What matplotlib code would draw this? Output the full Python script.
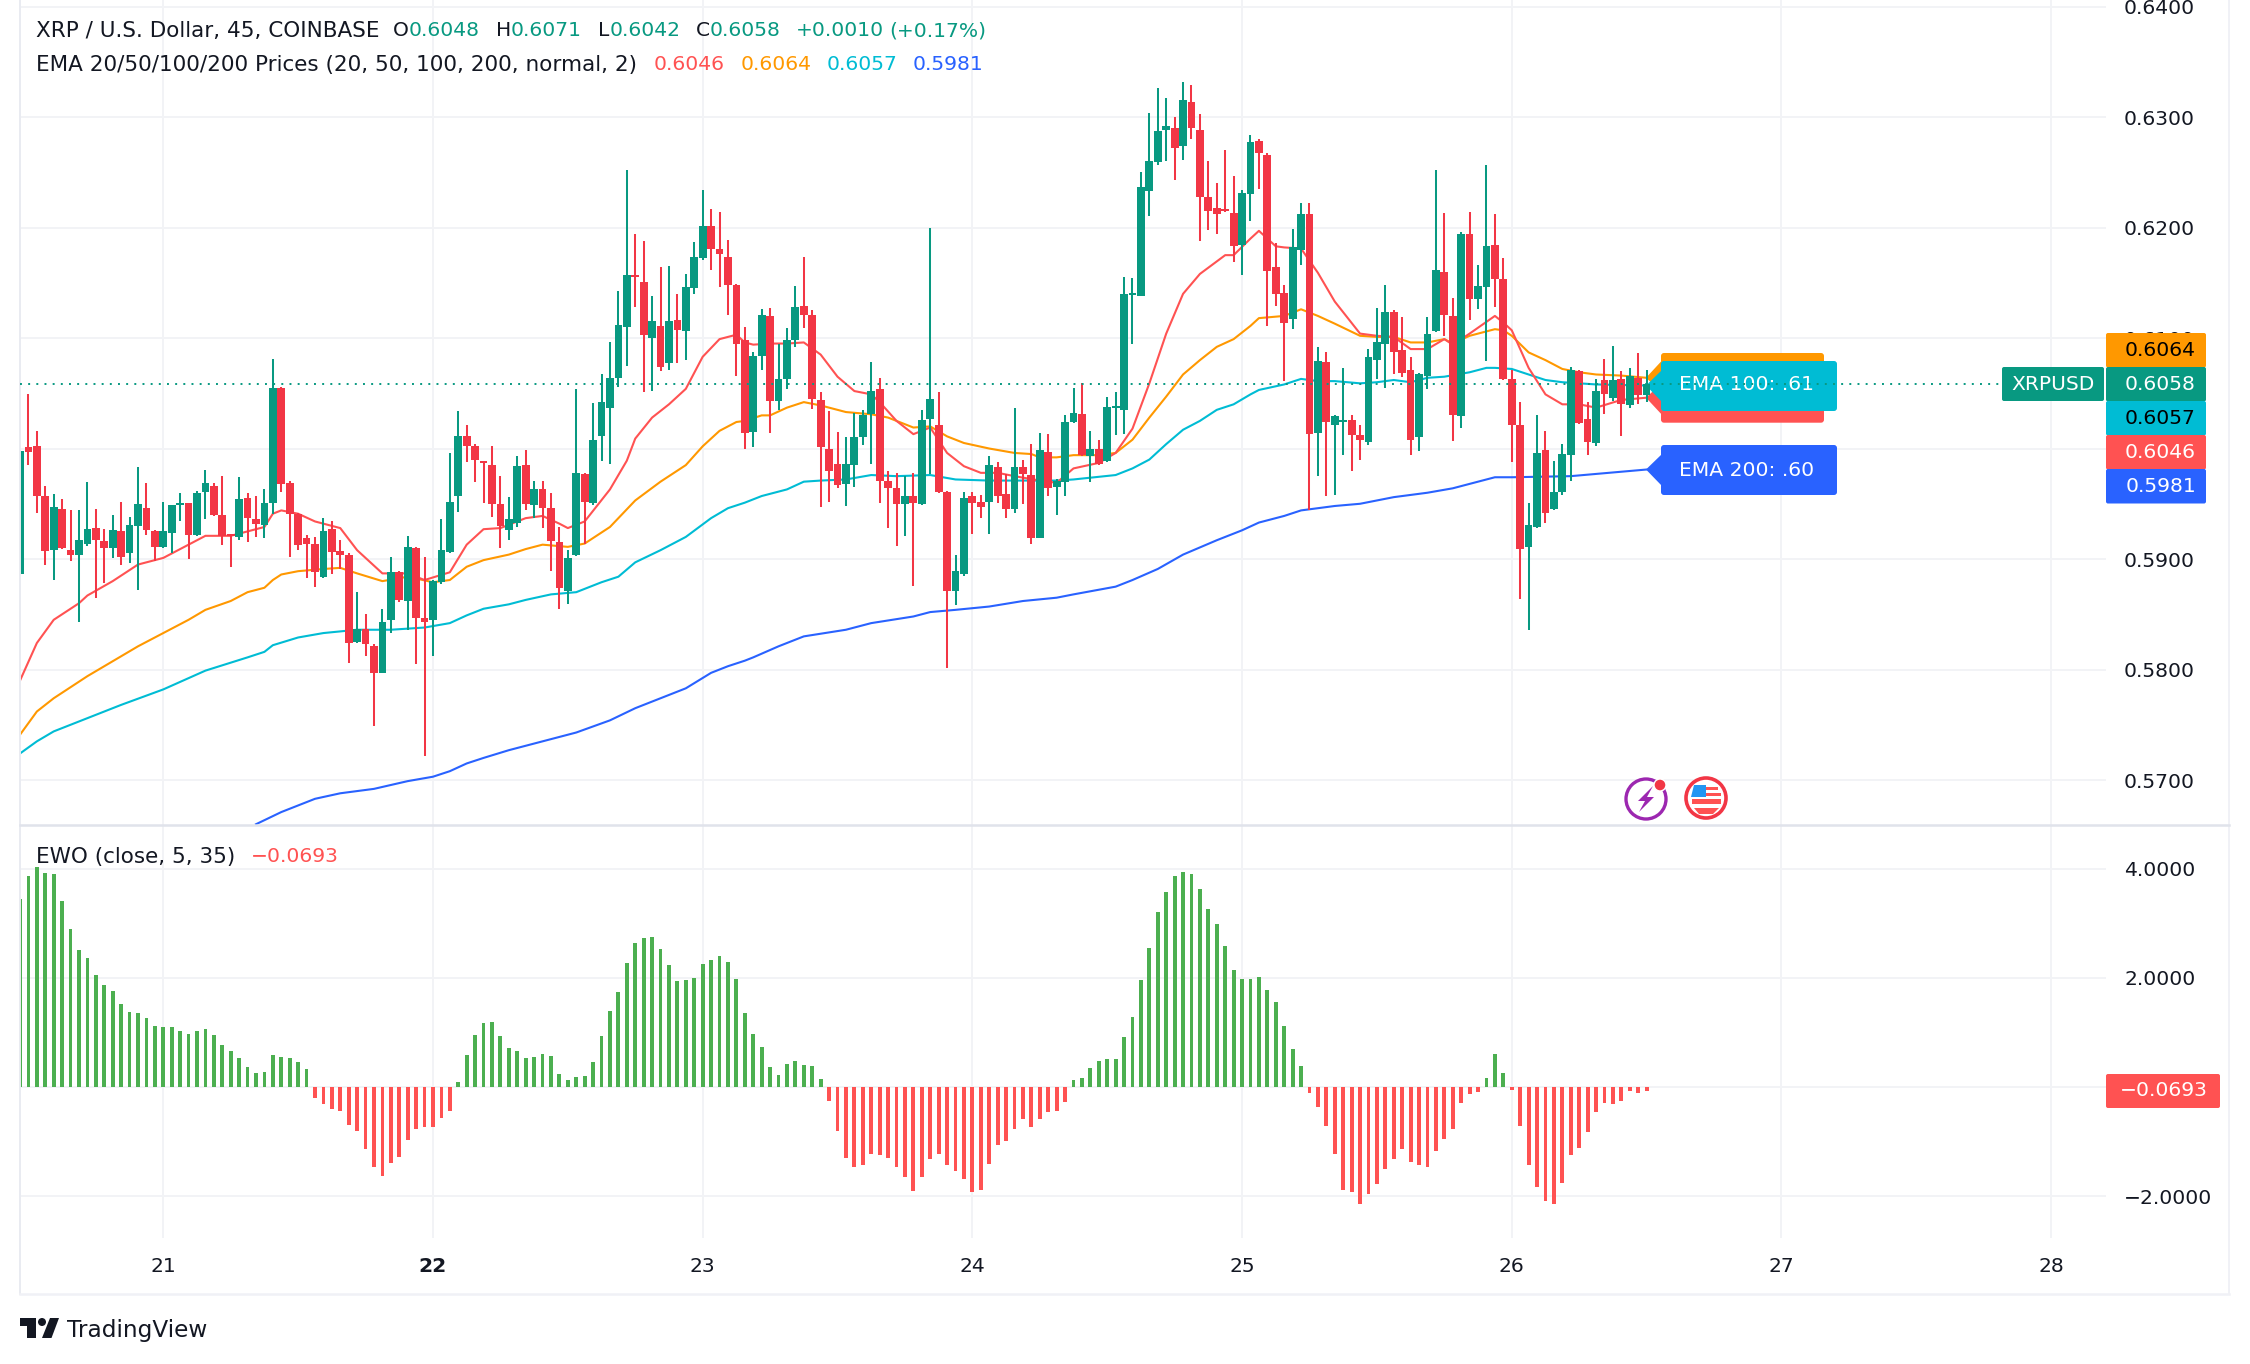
import numpy as np
import matplotlib
matplotlib.use('Agg')
import matplotlib.pyplot as plt
from matplotlib.patches import FancyBboxPatch, Polygon, Circle, Rectangle

## XRP / USD 45 min candles
opens = [.5886,.6001,.6002,.5957,.5908,.5945,.5908,.5904,.5914,.5928,
 .5916,.5910,.5925,.5905,.5930,.5946,.5925,.5911,.5924,.5949,
 .5951,.5922,.5961,.5966,.5940,.5922,.5920,.5955,.5936,.5931,
 .5951,.6055,.5969,.5941,.5919,.5914,.5884,.5927,.5907,.5904,
 .5825,.5837,.5821,.5797,.5845,.5888,.5862,.5910,.5847,.5845,
 .5879,.5906,.5957,.6011,.6002,.5988,.5985,.5950,.5926,.5933,
 .5985,.5949,.5963,.5946,.5915,.5871,.5904,.5977,.5951,.6011,
 .6037,.6064,.6110,.6157,.6151,.6100,.6111,.6077,.6116,.6106,
 .6145,.6172,.6201,.6181,.6173,.6148,.6098,.6015,.6084,.6120,
 .6043,.6063,.6098,.6129,.6121,.6044,.6000,.5986,.5968,.5985,
 .6010,.6031,.6054,.5971,.5964,.5950,.5957,.5950,.6027,.6021,
 .5961,.5871,.5886,.5957,.5952,.5952,.5983,.5959,.5945,.5983,
 .5976,.5919,.5997,.5965,.5970,.6024,.6031,.5993,.6000,.5989,
 .6037,.6035,.6139,.6138,.6233,.6259,.6288,.6290,.6274,.6314,
 .6288,.6228,.6218,.6216,.6213,.6184,.6230,.6278,.6266,.6164,
 .6141,.6117,.6180,.6212,.6014,.6078,.6021,.6024,.6026,.6012,
 .6006,.6080,.6095,.6124,.6089,.6071,.6010,.6066,.6106,.6160,
 .6120,.6029,.6194,.6135,.6146,.6184,.6153,.6063,.6021,.5911,
 .5929,.5999,.5945,.5961,.5994,.6070,.6027,.6005,.6062,.6046,
 .6063,.6039,.6064,.6048]
highs = [.5998,.6049,.6016,.5966,.5959,.5954,.5944,.5944,.5970,.5945,
 .5927,.5940,.5952,.5938,.5983,.5969,.5926,.5952,.5949,.5960,
 .5951,.5962,.5981,.5969,.5975,.5923,.5974,.5960,.5957,.5963,
 .6081,.6056,.5971,.5942,.5922,.5920,.5937,.5934,.5917,.5905,
 .5870,.5850,.5823,.5855,.5902,.5889,.5921,.5911,.5902,.5881,
 .5936,.5996,.6034,.6021,.6004,.5989,.6002,.5975,.5956,.5993,
 .5999,.5971,.5971,.5960,.5929,.5908,.6054,.5978,.6041,.6067,
 .6096,.6143,.6252,.6194,.6188,.6138,.6164,.6165,.6140,.6158,
 .6187,.6234,.6217,.6214,.6189,.6149,.6110,.6087,.6126,.6127,
 .6095,.6109,.6147,.6173,.6125,.6051,.6034,.6015,.6010,.6032,
 .6035,.6078,.6064,.5980,.5978,.5975,.5978,.6035,.6200,.6051,
 .5962,.5904,.5961,.5961,.5958,.5993,.5988,.5977,.6037,.5990,
 .6004,.6014,.6013,.5972,.6030,.6055,.6059,.6016,.6008,.6047,
 .6051,.6155,.6154,.6250,.6304,.6326,.6317,.6300,.6332,.6329,
 .6303,.6260,.6240,.6270,.6247,.6234,.6284,.6280,.6267,.6186,
 .6148,.6199,.6222,.6222,.6092,.6087,.6030,.6073,.6030,.6021,
 .6090,.6127,.6148,.6125,.6119,.6083,.6068,.6119,.6252,.6213,
 .6136,.6196,.6214,.6166,.6257,.6212,.6172,.6071,.6042,.5951,
 .6030,.6016,.5989,.6004,.6074,.6071,.6042,.6063,.6081,.6093,
 .6070,.6073,.6086,.6071]
lows = [.5886,.5985,.5942,.5895,.5881,.5909,.5898,.5843,.5912,.5865,
 .5878,.5901,.5895,.5896,.5872,.5922,.5898,.5910,.5905,.5934,
 .5900,.5921,.5936,.5939,.5913,.5893,.5917,.5915,.5920,.5919,
 .5941,.5961,.5902,.5908,.5883,.5875,.5883,.5886,.5891,.5806,
 .5824,.5812,.5749,.5797,.5833,.5861,.5836,.5805,.5722,.5812,
 .5877,.5905,.5943,.5988,.5970,.5951,.5938,.5910,.5917,.5929,
 .5944,.5937,.5928,.5889,.5855,.5859,.5903,.5914,.5949,.5989,
 .5986,.6056,.6075,.6128,.6051,.6052,.6070,.6071,.6077,.6080,
 .6140,.6171,.6162,.6146,.6121,.6066,.6000,.6001,.6071,.6014,
 .6035,.6054,.6092,.6109,.6036,.5947,.5952,.5964,.5948,.5965,
 .6003,.5986,.5951,.5928,.5912,.5921,.5876,.5949,.5977,.5960,
 .5801,.5858,.5885,.5923,.5937,.5923,.5951,.5937,.5942,.5950,
 .5914,.5919,.5957,.5940,.5957,.6023,.5993,.5970,.5985,.5988,
 .6012,.6013,.6095,.6138,.6210,.6257,.6260,.6243,.6261,.6280,
 .6188,.6198,.6194,.6214,.6169,.6157,.6206,.6235,.6111,.6129,
 .6061,.6108,.6166,.5944,.5975,.5957,.5958,.5994,.5980,.5990,
 .6003,.6063,.6055,.6067,.6065,.5994,.5998,.6054,.6105,.6102,
 .6007,.6019,.6116,.6126,.6079,.6128,.6062,.5988,.5864,.5836,
 .5928,.5933,.5944,.5958,.5971,.6022,.5994,.6002,.6031,.6043,
 .6011,.6037,.6040,.6042]
closes = [.5998,.5997,.5957,.5907,.5947,.5910,.5904,.5917,.5927,.5917,
 .5910,.5926,.5902,.5931,.5950,.5926,.5911,.5925,.5949,.5950,
 .5922,.5960,.5969,.5940,.5921,.5921,.5954,.5937,.5932,.5951,
 .6055,.5968,.5941,.5913,.5914,.5888,.5925,.5906,.5904,.5824,
 .5837,.5823,.5797,.5843,.5888,.5863,.5911,.5847,.5843,.5880,
 .5908,.5952,.6011,.6002,.5990,.5987,.5950,.5930,.5936,.5984,
 .5950,.5963,.5946,.5916,.5874,.5901,.5978,.5952,.6008,.6042,
 .6064,.6112,.6157,.6155,.6103,.6115,.6074,.6115,.6107,.6146,
 .6173,.6201,.6181,.6176,.6148,.6095,.6014,.6084,.6121,.6043,
 .6063,.6098,.6128,.6121,.6045,.6001,.5980,.5967,.5986,.6010,
 .6030,.6052,.5971,.5964,.5950,.5957,.5951,.6026,.6045,.5961,
 .5871,.5889,.5955,.5951,.5947,.5985,.5957,.5945,.5983,.5977,
 .5919,.5999,.5964,.5971,.6024,.6032,.5994,.6000,.5986,.6038,
 .6038,.6140,.6141,.6237,.6260,.6287,.6292,.6272,.6315,.6290,
 .6228,.6215,.6212,.6215,.6183,.6231,.6277,.6267,.6161,.6140,
 .6114,.6182,.6212,.6013,.6079,.6024,.6029,.6025,.6012,.6008,
 .6083,.6096,.6124,.6087,.6068,.6008,.6067,.6104,.6162,.6121,
 .6030,.6194,.6135,.6147,.6183,.6153,.6063,.6021,.5909,.5931,
 .5996,.5942,.5961,.5995,.6071,.6023,.6006,.6052,.6049,.6062,
 .6040,.6066,.6048,.6058]

# ema curves, read every few bars
ema20_x = [0,2,4,7,8,11,14,17,20,22,25,29,30,31,33,35,38,40,43,46,48,51,53,55,57,60,62,64,65,67,70,72,73,75,77,79,81,83,85,86,
 87,89,91,93,95,97,99,101,102,104,106,108,110,112,114,116,118,121,123,125,128,130,132,134,136,138,140,143,144,146,147,149,150,152,154,156,159,161,163,165,167,169,170,172,175,
 176,177,179,181,183,185,187,190,193]
ema20_y = [.5790,.5824,.5845,.5860,.5867,.5880,.5895,.5901,.5913,.5921,.5921,.5929,.5941,.5944,.5941,.5934,.5928,.5908,.5887,.5887,.5881,.5888,.5913,.5927,.5928,.5937,.5939,.5932,.5928,.5934,.5963,.5989,.6009,.6028,.6040,.6054,.6083,.6099,.6103,.6096,
 .6094,.6095,.6095,.6096,.6085,.6065,.6052,.6049,.6042,.6025,.6013,.6019,.5996,.5984,.5978,.5978,.5975,.5971,.5969,.5982,.5987,.5996,.6018,.6059,.6104,.6140,.6158,.6175,.6175,.6190,.6197,.6183,.6182,.6181,.6159,.6133,.6104,.6102,.6101,.6090,.6090,.6099,.6094,.6104,.6120,
 .6114,.6107,.6073,.6049,.6040,.6040,.6037,.6044,.6046]
ema50_x = [0,2,4,8,12,14,17,20,22,25,27,29,30,31,33,36,38,40,43,46,49,51,53,55,58,60,62,65,67,70,73,76,79,81,83,85,86,
 88,89,91,93,95,98,101,103,106,108,110,112,115,118,120,121,123,125,128,130,132,134,136,138,140,142,144,146,147,150,152,154,156,159,161,163,165,167,169,170,172,175,
 176,177,179,181,183,185,187,190,193]
ema50_y = [.5741,.5762,.5774,.5794,.5812,.5821,.5833,.5845,.5854,.5862,.5870,.5874,.5881,.5886,.5889,.5891,.5892,.5887,.5880,.5884,.5879,.5881,.5893,.5899,.5904,.5909,.5913,.5911,.5914,.5929,.5953,.5970,.5985,.6002,.6016,.6024,.6025,
 .6030,.6030,.6037,.6042,.6039,.6033,.6031,.6028,.6019,.6020,.6011,.6005,.6000,.5996,.5995,.5992,.5992,.5994,.5994,.5996,.6008,.6028,.6047,.6067,.6080,.6092,.6099,.6111,.6118,.6120,.6126,.6120,.6113,.6102,.6101,.6101,.6096,.6096,.6099,.6095,.6102,.6108,
 .6107,.6102,.6087,.6080,.6072,.6069,.6067,.6066,.6064]
ema100_x = [0,2,4,8,12,17,22,27,29,30,33,36,40,44,48,51,53,55,58,60,63,66,69,71,73,76,79,82,84,86,
 88,91,93,95,98,101,104,108,111,115,120,123,125,130,132,134,136,138,140,142,144,146,147,150,152,154,156,159,161,163,165,167,169,172,174,175,
 177,179,181,183,187,193]
ema100_y = [.5724,.5735,.5744,.5756,.5768,.5782,.5799,.5811,.5816,.5822,.5829,.5833,.5836,.5836,.5838,.5842,.5849,.5855,.5859,.5863,.5868,.5870,.5879,.5884,.5897,.5908,.5920,.5937,.5946,.5951,
 .5957,.5963,.5970,.5971,.5972,.5976,.5975,.5976,.5972,.5971,.5971,.5971,.5972,.5976,.5982,.5990,.6004,.6017,.6025,.6035,.6040,.6049,.6053,.6058,.6063,.6061,.6061,.6059,.6060,.6062,.6060,.6064,.6065,.6069,.6073,.6073,
 .6072,.6067,.6062,.6060,.6058,.6057]
ema200_x = [28,31,35,38,42,46,49,51,53,55,58,61,64,66,70,73,76,79,82,84,86,
 87,90,93,98,101,106,108,111,115,119,123,125,130,132,135,138,142,145,147,150,152,156,159,163,167,170,173,175,
 177,184,193]
ema200_y = [.5660,.5671,.5683,.5688,.5692,.5699,.5703,.5708,.5715,.5720,.5727,.5733,.5739,.5743,.5754,.5765,.5774,.5783,.5797,.5803,.5808,
 .5811,.5821,.5830,.5836,.5842,.5848,.5852,.5854,.5857,.5862,.5865,.5868,.5875,.5881,.5891,.5904,.5917,.5926,.5933,.5939,.5944,.5948,.5950,.5956,.5960,.5964,.5970,.5974,
 .5974,.5975,.5981]

# elliott wave oscillator histogram
ewo = [3.44,3.87,4.03,3.92,3.90,3.41,2.90,2.51,2.36,2.05,
 1.87,1.76,1.52,1.38,1.36,1.26,1.12,1.10,1.10,1.03,
 .97,1.03,1.07,.95,.77,.66,.53,.37,.26,.28,
 .59,.55,.53,.46,.33,-.20,-.31,-.40,-.43,-.69,
 -.81,-1.14,-1.46,-1.63,-1.38,-1.28,-.97,-.76,-.73,-.73,
 -.57,-.43,.10,.59,.95,1.17,1.19,.93,.72,.66,
 .53,.55,.61,.57,.24,.13,.18,.20,.46,.93,
 1.39,1.74,2.27,2.63,2.73,2.75,2.53,2.23,1.94,1.96,
 2.00,2.25,2.32,2.40,2.29,1.98,1.36,.97,.74,.37,
 .22,.43,.48,.41,.39,.15,-.25,-.80,-1.29,-1.46,
 -1.42,-1.22,-1.24,-1.29,-1.46,-1.64,-1.90,-1.64,-1.31,-1.22,
 -1.42,-1.54,-1.68,-1.92,-1.88,-1.41,-1.06,-.98,-.77,-.58,
 -.73,-.58,-.46,-.44,-.27,.13,.17,.35,.48,.51,
 .51,.92,1.28,1.96,2.55,3.21,3.57,3.87,3.94,3.90,
 3.63,3.26,2.98,2.58,2.15,1.98,1.98,2.01,1.78,1.56,
 1.12,.70,.39,-.11,-.36,-.71,-1.22,-1.88,-1.92,-2.14,
 -1.96,-1.77,-1.50,-1.31,-1.13,-1.37,-1.42,-1.46,-1.17,-.95,
 -.77,-.29,-.13,-.09,.17,.61,.26,-.05,-.71,-1.42,
 -1.83,-2.08,-2.14,-1.75,-1.24,-1.11,-.82,-.46,-.29,-.31,
 -.25,-.07,-.11,-.0693]

day_ticks = [17,49,81,113,145,177,209,241]
day_labels = ['21','22','23','24','25','26','27','28']
price_ticks = [.57,.58,.59,.60,.61,.62,.63,.64]
ewo_ticks = [-2,0,2,4]

GREEN = '#089981'
RED = '#F23645'
C_EMA20 = '#FF5252'
C_EMA50 = '#FF9800'
C_EMA100 = '#00BCD4'
C_EMA200 = '#2962FF'
GRID = '#F2F3F6'
TXT = '#131722'
FS = 14.6
FS_LABEL = 15.5

W, H = 2250, 1364
plt.rcParams['font.family'] = 'DejaVu Sans'
fig = plt.figure(figsize=(W / 100, H / 100), dpi=100, facecolor='white')

def pane(top, bottom):
    a = fig.add_axes([20 / W, 1 - bottom / H, 2086 / W, (bottom - top) / H])
    for s in a.spines.values():
        s.set_visible(False)
    a.set_xlim(0, 2086 / 8.428)
    a.set_xticks(day_ticks)
    a.grid(True, color=GRID, lw=1.4)
    a.set_axisbelow(True)
    a.tick_params(length=0)
    a.yaxis.tick_right()
    return a

ax = pane(0, 825)
ax.set_ylim(.56593, .64059)
ax.set_yticks(price_ticks)
ax.set_yticklabels(['%.4f' % p for p in price_ticks], fontsize=FS, color=TXT)
ax.tick_params(axis='y', pad=13)
ax.tick_params(axis='x', labelbottom=False)

for xs, ys, col in [(ema200_x, ema200_y, C_EMA200), (ema100_x, ema100_y, C_EMA100),
                    (ema50_x, ema50_y, C_EMA50), (ema20_x, ema20_y, C_EMA20)]:
    ax.plot(xs, ys, color=col, lw=1.5, zorder=2, solid_joinstyle='round')

x = np.arange(len(opens))
o = np.array(opens)
c = np.array(closes)
cols = [GREEN if c[i] >= o[i] else RED for i in range(len(o))]
ax.vlines(x, lows, highs, colors=cols, lw=1.45, zorder=5)
# dojis still need a visible body
heights = np.maximum(np.abs(c - o), .00018)
ax.bar(x, heights, bottom=np.minimum(o, c), width=0.92, color=cols, lw=0, zorder=6)

ax2 = pane(825, 1238)
ax2.set_ylim(-2.76, 4.797)
ax2.set_yticks(ewo_ticks)
ax2.set_yticklabels(['\u22122.0000', '', '2.0000', '4.0000'], fontsize=FS, color=TXT)
ax2.tick_params(axis='y', pad=13)
ax2.set_xticks(day_ticks)
ax2.set_xticklabels(day_labels, fontsize=FS, color=TXT)
ax2.get_xticklabels()[1].set_fontweight('bold')
ax2.tick_params(axis='x', pad=14)
ewo_cols = ['#4CAF50' if v >= 0 else '#FF5252' for v in ewo]
ax2.bar(np.arange(len(ewo)), ewo, width=0.45, color=ewo_cols, lw=0, zorder=3)

# everything below is screen furniture, in pixels
ov = fig.add_axes([0, 0, 1, 1], zorder=10)
ov.set_xlim(0, W)
ov.set_ylim(H, 0)
ov.axis('off')
ov.patch.set_alpha(0)

def px(p):
    return 117 + (.63 - p) * 11050

# frame
ov.plot([20, 20], [0, 1294], color='#E9EBF1', lw=1.4)
ov.plot([2229, 2229], [0, 1294], color='#F0F1F6', lw=1.4)
ov.plot([20, 2229], [1294, 1294], color='#F0F1F6', lw=1.8)
ov.plot([20, 2229], [825, 825], color='#E0E3EB', lw=1.8)

def box(x0, y0, x1, y1, col, z=3, r=3, on=ov):
    on.add_patch(FancyBboxPatch((x0 + r, y0 + r), x1 - x0 - 2 * r, y1 - y0 - 2 * r,
                                boxstyle='round,pad=%d,rounding_size=%d' % (r, r), fc=col, ec='none', zorder=z,
                                transform=ov.transData, clip_on=False))

def tx(x0, y0, s, col=TXT, ha='left', size=FS, z=8, **kw):
    ov.text(x0, y0, s, color=col, ha=ha, va='center', fontsize=size, zorder=z, **kw)

# legends
tx(36, 31, 'XRP / U.S. Dollar, 45, COINBASE', size=FS_LABEL)
for xp, s in [(393, 'O'), (496, 'H'), (598, 'L'), (696, 'C')]:
    tx(xp, 31, s)
for xp, s in [(409, '0.6048'), (511, '0.6071'), (610, '0.6042'), (710, '0.6058'),
              (796, '+0.0010'), (889, '(+0.17%)')]:
    tx(xp, 31, s, col=GREEN)
tx(36, 65, 'EMA 20/50/100/200 Prices (20, 50, 100, 200, normal, 2)', size=FS_LABEL)
tx(654, 65, '0.6046', col=C_EMA20)
tx(741, 65, '0.6064', col=C_EMA50)
tx(827, 65, '0.6057', col=C_EMA100)
tx(913, 65, '0.5981', col=C_EMA200)
tx(36, 857, 'EWO (close, 5, 35)', size=FS_LABEL)
tx(251, 857, '\u22120.0693', col=C_EMA20)

# ema callouts, under the candles so the last bar stays on top
tip_x = 1646
for col, y0, y1, x1, tip, z in [(C_EMA50, 353, 400, 1824, px(.6064), 3),
                                (C_EMA20, 375, 422.7, 1824, px(.6046), 3.2),
                                (C_EMA200, 445, 495, 1837, px(.5981), 3.4),
                                (C_EMA100, 361, 411, 1837, px(.6057), 3.6)]:
    box(1661, y0, x1, y1, col, z=z, on=ax)
    ax.add_patch(Polygon([(tip_x, tip), (1662, (y0 + y1) / 2 - 16), (1662, (y0 + y1) / 2 + 16)],
                         fc=col, ec='none', zorder=z, transform=ov.transData, clip_on=False))
tx(1679, 385, 'EMA 100: .61', col='white', z=6)
tx(1679, 470, 'EMA 200: .60', col='white', z=6)

# last price line
ov.plot([20, 2002], [px(.6058)] * 2, color=GREEN, lw=1.4, ls=(0, (1, 3.2)), zorder=7)

# axis value tags
tags = [('0.6064', C_EMA50, 'black', 333), ('0.6058', GREEN, 'white', 367),
        ('0.6057', C_EMA100, 'black', 401), ('0.6046', C_EMA20, 'white', 435),
        ('0.5981', C_EMA200, 'white', 469)]
for s, col, tc, y0 in tags:
    box(2106, y0, 2206, y0 + 34.5, col, z=4, r=2)
    tx(2196, y0 + 17, s, col=tc, ha='right', z=8)
box(2002, 367, 2104, 401, GREEN, z=4, r=2)
tx(2053, 384.5, 'XRPUSD', col='white', ha='center', z=8)
box(2106, 1074, 2220, 1108, '#FF5252', z=4, r=2)
tx(2208, 1091, '\u22120.0693', col='white', ha='right', z=8)

# lightning icon
ov.add_patch(Circle((1646, 799), 20, fc='white', ec='#9C27B0', lw=2.4, zorder=5))
ov.add_patch(Polygon([(1653, 786), (1638, 801), (1645, 801), (1639, 812), (1654, 797), (1647, 797)],
                     fc='#9C27B0', ec='none', zorder=6))
ov.add_patch(Circle((1660, 785), 6, fc=RED, ec='white', lw=1, zorder=6))
# calendar flag icon
ov.add_patch(Circle((1706, 798), 20, fc='white', ec=RED, lw=2.6, zorder=5))
ov.add_patch(Rectangle((1692, 799), 29, 5, fc='#FF5252', ec='none', zorder=6))
ov.add_patch(Polygon([(1694, 808), (1719, 808), (1713, 814), (1699, 814)], fc='#FF5252', ec='none', zorder=6))
ov.add_patch(Polygon([(1691, 797), (1694, 785), (1706, 785), (1706, 797)], fc='#2196F3', ec='none', zorder=6))
ov.add_patch(Rectangle((1706, 787), 12, 3, fc='#FF5252', ec='none', zorder=6))
ov.add_patch(Rectangle((1706, 793), 15, 3, fc='#FF5252', ec='none', zorder=6))

# tradingview logo
ov.add_patch(Polygon([(20, 1318), (36, 1318), (36, 1338), (27, 1338), (27, 1326), (20, 1326)], fc=TXT, ec='none'))
ov.add_patch(Circle((42, 1322), 4, fc=TXT, ec='none'))
ov.add_patch(Polygon([(50, 1318), (59, 1318), (51.5, 1338), (42, 1338)], fc=TXT, ec='none'))
tx(67, 1330, 'TradingView', size=16.7)

plt.savefig('out.png', dpi=100)
